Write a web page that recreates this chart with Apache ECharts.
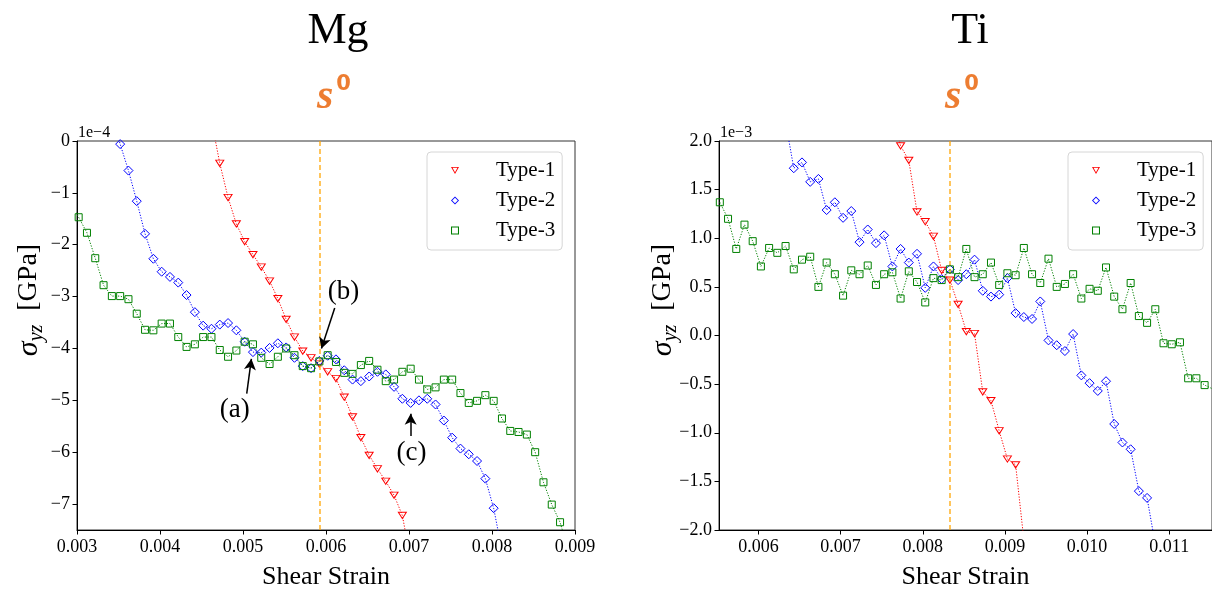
<!DOCTYPE html>
<html>
<head>
<meta charset="utf-8">
<script src="https://cdn.jsdelivr.net/npm/echarts@6/dist/echarts.min.js"></script>
<style>
html,body{margin:0;padding:0;background:#fff;}
#chart{width:1212px;height:596px;}
</style>
</head>
<body>
<div id="chart"></div>
<script>
// ---------- data (stress in units of the axis offset: Mg 1e-4 GPa, Ti 1e-3 GPa) ----------
const seriesNames = ['Type-1', 'Type-2', 'Type-3'];
const panelTitles = ['Mg', 'Ti'];

const mgXTicks = [0.003, 0.004, 0.005, 0.006, 0.007, 0.008, 0.009];
const mgYTicks = [-7, -6, -5, -4, -3, -2, -1, 0];
const tiXTicks = [0.006, 0.007, 0.008, 0.009, 0.010, 0.011];
const tiYTicks = [-2.0, -1.5, -1.0, -0.5, 0.0, 0.5, 1.0, 1.5, 2.0];

const mgS0 = 0.00592;
const tiS0 = 0.00833;

const mgType1Strain = [0.00462,0.00472,0.00482,0.00492,0.00502,0.00512,0.00522,0.00532,0.00542,0.00552,0.00562,0.00572,0.00582,0.00592,0.00602,0.00612,0.00622,0.00632,0.00642,0.00652,0.00662,0.00672,0.00682,0.00692,0.00702];
const mgType1Stress = [0.40,-0.43,-1.09,-1.60,-1.94,-2.19,-2.43,-2.70,-3.04,-3.44,-3.78,-4.05,-4.18,-4.30,-4.45,-4.58,-4.94,-5.32,-5.72,-6.06,-6.32,-6.56,-6.83,-7.22,-8.08];

const mgType2Strain = [0.00342,0.00352,0.00362,0.00372,0.00382,0.00392,0.00402,0.00412,0.00422,0.00432,0.00442,0.00452,0.00462,0.00472,0.00482,0.00492,0.00502,0.00512,0.00522,0.00532,0.00542,0.00552,0.00562,0.00572,0.00582,0.00592,0.00602,0.00612,0.00622,0.00632,0.00642,0.00652,0.00662,0.00672,0.00682,0.00692,0.00702,0.00712,0.00722,0.00732,0.00742,0.00752,0.00762,0.00772,0.00782,0.00792,0.00802,0.00812];
const mgType2Stress = [0.5,-0.06,-0.57,-1.16,-1.79,-2.27,-2.52,-2.62,-2.73,-2.97,-3.30,-3.56,-3.62,-3.54,-3.51,-3.65,-3.87,-4.07,-4.08,-3.99,-3.90,-3.98,-4.18,-4.34,-4.38,-4.24,-4.14,-4.21,-4.42,-4.60,-4.63,-4.54,-4.45,-4.50,-4.74,-4.97,-5.05,-5.00,-4.97,-5.08,-5.39,-5.72,-5.93,-6.04,-6.17,-6.51,-7.08,-7.9];

const mgType3Strain = [0.00292,0.00302,0.00312,0.00322,0.00332,0.00342,0.00352,0.00362,0.00372,0.00382,0.00392,0.00402,0.00412,0.00422,0.00432,0.00442,0.00452,0.00462,0.00472,0.00482,0.00492,0.00502,0.00512,0.00522,0.00532,0.00542,0.00552,0.00562,0.00572,0.00582,0.00592,0.00602,0.00612,0.00622,0.00632,0.00642,0.00652,0.00662,0.00672,0.00682,0.00692,0.00702,0.00712,0.00722,0.00732,0.00742,0.00752,0.00762,0.00772,0.00782,0.00792,0.00802,0.00812,0.00822,0.00832,0.00842,0.00852,0.00862,0.00872,0.00882,0.00892];
const mgType3Stress = [-1.19,-1.47,-1.77,-2.26,-2.78,-2.99,-2.99,-3.05,-3.33,-3.64,-3.65,-3.52,-3.52,-3.78,-3.97,-3.92,-3.78,-3.78,-4.03,-4.16,-4.04,-3.87,-3.92,-4.18,-4.30,-4.16,-4.00,-4.13,-4.34,-4.38,-4.25,-4.13,-4.26,-4.47,-4.49,-4.32,-4.24,-4.41,-4.63,-4.60,-4.45,-4.39,-4.60,-4.79,-4.75,-4.60,-4.60,-4.86,-5.05,-5.01,-4.90,-5.01,-5.35,-5.59,-5.61,-5.66,-6.00,-6.58,-7.01,-7.35,-7.9];

const tiType1Strain = [0.00763,0.00773,0.00783,0.00793,0.00803,0.00813,0.00823,0.00833,0.00843,0.00853,0.00863,0.00873,0.00883,0.00893,0.00903,0.00913,0.00923];
const tiType1Stress = [2.3,1.95,1.80,1.27,1.17,1.02,0.67,0.57,0.32,0.04,0.02,-0.58,-0.67,-0.98,-1.27,-1.33,-2.1];

const tiType2Strain = [0.00633,0.00643,0.00653,0.00663,0.00673,0.00683,0.00693,0.00703,0.00713,0.00723,0.00733,0.00743,0.00753,0.00763,0.00773,0.00783,0.00793,0.00803,0.00813,0.00823,0.00833,0.00843,0.00853,0.00863,0.00873,0.00883,0.00893,0.00903,0.00913,0.00923,0.00933,0.00943,0.00953,0.00963,0.00973,0.00983,0.00993,0.01003,0.01013,0.01023,0.01033,0.01043,0.01053,0.01063,0.01073,0.01083];
const tiType2Stress = [2.2,1.72,1.78,1.58,1.61,1.29,1.37,1.21,1.28,0.96,1.09,0.95,1.03,0.71,0.89,0.75,0.84,0.49,0.71,0.58,0.68,0.57,0.63,0.78,0.46,0.40,0.42,0.59,0.23,0.19,0.17,0.35,-0.05,-0.10,-0.16,0.015,-0.41,-0.49,-0.57,-0.47,-0.91,-1.10,-1.17,-1.60,-1.67,-2.15];

const tiType3Strain = [0.00553,0.00563,0.00573,0.00583,0.00593,0.00603,0.00613,0.00623,0.00633,0.00643,0.00653,0.00663,0.00673,0.00683,0.00693,0.00703,0.00713,0.00723,0.00733,0.00743,0.00753,0.00763,0.00773,0.00783,0.00793,0.00803,0.00813,0.00823,0.00833,0.00843,0.00853,0.00863,0.00873,0.00883,0.00893,0.00903,0.00913,0.00923,0.00933,0.00943,0.00953,0.00963,0.00973,0.00983,0.00993,0.01003,0.01013,0.01023,0.01033,0.01043,0.01053,0.01063,0.01073,0.01083,0.01093,0.01103,0.01113,0.01123,0.01133,0.01143,0.01153];
const tiType3Stress = [1.37,1.20,0.89,1.14,0.97,0.71,0.90,0.85,0.92,0.68,0.78,0.81,0.50,0.75,0.63,0.41,0.67,0.63,0.72,0.52,0.63,0.65,0.38,0.66,0.55,0.34,0.59,0.57,0.68,0.60,0.89,0.60,0.63,0.75,0.52,0.64,0.62,0.90,0.63,0.54,0.79,0.50,0.53,0.63,0.38,0.48,0.46,0.70,0.40,0.27,0.54,0.20,0.13,0.27,-0.08,-0.09,-0.07,-0.44,-0.44,-0.51,-0.55];

// annotations on Mg panel: [label, textX, textY, arrowFromX, arrowFromY, arrowToX, arrowToY]
const mgAnnotations = [
  ['(a)', 0.00490, -5.19, 0.005045, -4.87, 0.005101, -4.20],
  ['(b)', 0.00621, -2.90, 0.006105, -3.22, 0.005945, -4.00],
  ['(c)', 0.00703, -6.02, 0.00702, -5.69, 0.00702, -5.26]
];

// ---------- styling ----------
const SERIF = "'Liberation Serif','Times New Roman',serif";
const colors = ['#ff0000', '#0000ff', '#008000'];
const triDown = 'path://M0,0L10,0L5,9Z';
const diamondPath = 'path://M5,0L10,5L5,10L0,5Z';
const squarePath = 'path://M0,0L10,0L10,10L0,10Z';
const symbols = [triDown, diamondPath, squarePath];
// hollow outline shapes (outer ring minus inner hole) for legend keys
const legendIcons = [
  'path://M0,0L10,0L5,9ZM1.9,1.1L5,6.7L8.1,1.1Z',
  'path://M5,0L10,5L5,10L0,5ZM5,1.5L1.5,5L5,8.5L8.5,5Z',
  'path://M0,0L10,0L10,10L0,10ZM1.3,1.3L1.3,8.7L8.7,8.7L8.7,1.3Z'
];
const symSizes = [[8, 7], 9, 7];
const ORANGE_LINE = 'rgba(255,165,0,0.85)';
const TITLE_ORANGE = '#ED7D31';

function zip(xs, ys) { return xs.map((x, i) => [x, ys[i]]); }
const minus = s => s.replace('-', '\u2212');

function mkSeries(name, k, xs, ys, axisIdx) {
  return {
    type: 'line', name: name,
    xAxisIndex: axisIdx, yAxisIndex: axisIdx,
    data: zip(xs, ys),
    symbol: symbols[k], symbolSize: symSizes[k], symbolKeepAspect: true,
    showAllSymbol: true,
    clip: true,
    itemStyle: { color: 'rgba(255,255,255,0)', borderColor: colors[k], borderWidth: 1 },
    lineStyle: { color: colors[k], width: 1, type: [1.2, 1.6] },
    emphasis: { disabled: true },
    animation: false,
    z: 3 + k
  };
}

function axisCommon() {
  return {
    axisLine: { show: true, onZero: false, lineStyle: { color: '#000', width: 1 } },
    axisTick: { show: true, inside: false, length: 4.5, lineStyle: { color: '#000', width: 1 } },
    splitLine: { show: false },
    axisLabel: { color: '#000', fontFamily: SERIF, fontSize: 18 }
  };
}

const grids = [
  { left: 77, top: 141, width: 498, height: 389, show: true, borderColor: '#333', borderWidth: 1, backgroundColor: 'transparent' },
  { left: 719, top: 141, width: 498, height: 389, show: true, borderColor: '#333', borderWidth: 1, backgroundColor: 'transparent' }
];

const xAxes = [
  Object.assign(axisCommon(), {
    type: 'value', gridIndex: 0, min: 0.003, max: 0.009, interval: 0.001,
    name: 'Shear Strain', nameLocation: 'middle', nameGap: 34,
    nameTextStyle: { fontFamily: SERIF, fontSize: 26, color: '#000' }
  }),
  Object.assign(axisCommon(), {
    type: 'value', gridIndex: 1, min: 0.00552, max: 0.01152,
    name: 'Shear Strain', nameLocation: 'middle', nameGap: 34,
    nameTextStyle: { fontFamily: SERIF, fontSize: 26, color: '#000' }
  })
];
xAxes[0].axisLabel.formatter = v => v.toFixed(3);
xAxes[0].axisLabel.margin = 8;
xAxes[1].axisLabel.formatter = v => v.toFixed(3);
xAxes[1].axisLabel.margin = 8;
xAxes[1].axisLabel.customValues = tiXTicks;
xAxes[1].axisTick.customValues = tiXTicks;

const yAxes = [
  Object.assign(axisCommon(), { type: 'value', gridIndex: 0, min: -7.5, max: 0 }),
  Object.assign(axisCommon(), { type: 'value', gridIndex: 1, min: -2, max: 2, interval: 0.5 })
];
yAxes[0].axisLabel.customValues = mgYTicks;
yAxes[0].axisTick.customValues = mgYTicks;
yAxes[0].axisLabel.formatter = v => minus(String(Math.round(v)));
yAxes[0].axisLabel.margin = 7;
yAxes[1].axisLabel.formatter = v => minus(v.toFixed(1));
yAxes[1].axisLabel.margin = 7;

const series = [
  mkSeries(seriesNames[0], 0, mgType1Strain, mgType1Stress, 0),
  mkSeries(seriesNames[1], 1, mgType2Strain, mgType2Stress, 0),
  mkSeries(seriesNames[2], 2, mgType3Strain, mgType3Stress, 0),
  mkSeries(seriesNames[0], 0, tiType1Strain, tiType1Stress, 1),
  mkSeries(seriesNames[1], 1, tiType2Strain, tiType2Stress, 1),
  mkSeries(seriesNames[2], 2, tiType3Strain, tiType3Stress, 1)
];

// s0 vertical dashed lines
const vline = (x, y0, y1) => ({
  silent: true, symbol: ['none', 'none'], animation: false,
  label: { show: false },
  lineStyle: { color: ORANGE_LINE, type: [5, 3], width: 1.5 },
  data: [[{ coord: [x, y0] }, { coord: [x, y1] }]]
});
series[0].markLine = vline(mgS0, -7.5, 0);
series[3].markLine = vline(tiS0, -2, 2);

// annotation arrows + texts (Mg)
series.push({
  type: 'scatter', xAxisIndex: 0, yAxisIndex: 0, data: [], silent: true, z: 10,
  markLine: {
    silent: true, animation: false, symbol: ['none', 'arrow'], symbolSize: [9, 11],
    label: { show: false },
    lineStyle: { color: '#000', type: 'solid', width: 1.5 },
    data: mgAnnotations.map(a => [{ coord: [a[3], a[4]] }, { coord: [a[5], a[6]] }])
  },
  markPoint: {
    silent: true, animation: false, symbol: 'circle', symbolSize: 0,
    label: { show: true, position: 'inside', formatter: p => p.name, color: '#000', fontFamily: SERIF, fontSize: 27 },
    data: mgAnnotations.map(a => ({ name: a[0], coord: [a[1], a[2]] }))
  }
});

function mkLegend(left) {
  return {
    left: left, top: 152, orient: 'vertical',
    itemWidth: 8, itemHeight: 8, itemGap: 9,
    padding: [8, 7, 9, 24],
    borderColor: '#d6d6d6', borderWidth: 1, borderRadius: 4,
    backgroundColor: 'rgba(255,255,255,0.8)',
    selectedMode: false,
    textStyle: { fontFamily: SERIF, fontSize: 21, color: '#000', padding: [0, 0, 0, 32] },
    data: seriesNames.map((n, k) => ({
      name: n, icon: legendIcons[k],
      itemStyle: { color: colors[k], borderWidth: 0 }
    }))
  };
}

function mkTitle(text, centerX, top) {
  return {
    text: text, left: centerX, top: top, textAlign: 'center', padding: 0,
    textStyle: { fontFamily: SERIF, fontSize: 44, fontWeight: 'normal', color: '#000' }
  };
}
function mkS0(centerX, top) {
  return {
    text: '{s|s}{sup|0}', left: centerX, top: top, textAlign: 'center', padding: 0,
    textStyle: {
      rich: {
        s: { fontFamily: SERIF, fontStyle: 'italic', fontSize: 42, color: TITLE_ORANGE, lineHeight: 44, verticalAlign: 'bottom' },
        sup: { fontFamily: "'DejaVu Sans',sans-serif", fontSize: 21, color: TITLE_ORANGE, lineHeight: 44, verticalAlign: 'top', padding: [0, 0, 0, 3] }
      }
    }
  };
}
function mkOffset(text, left) {
  return {
    text: text, left: left, top: 125, padding: 0,
    textStyle: { fontFamily: SERIF, fontSize: 16, fontWeight: 'normal', color: '#000' }
  };
}

function yLabel(x, y) {
  return {
    type: 'text', x: x, y: y, rotation: Math.PI / 2,
    style: {
      text: '{s|σ}{sub|yz}{g|  [GPa]}',
      align: 'center', verticalAlign: 'middle',
      rich: {
        s: { fontFamily: SERIF, fontStyle: 'italic', fontSize: 30, lineHeight: 36, verticalAlign: 'middle', fill: '#000' },
        g: { fontFamily: SERIF, fontSize: 28, lineHeight: 36, verticalAlign: 'middle', fill: '#000' },
        sub: { fontFamily: SERIF, fontStyle: 'italic', fontSize: 20, lineHeight: 36, verticalAlign: 'bottom', fill: '#000' }
      }
    }
  };
}

const option = {
  backgroundColor: '#fff',
  animation: false,
  title: [
    mkTitle(panelTitles[0], 338, 9), mkTitle(panelTitles[1], 970, 9),
    mkS0(334, 74), mkS0(962, 74),
    mkOffset('1e\u22124', 78), mkOffset('1e\u22123', 720)
  ],
  legend: [mkLegend(427), mkLegend(1068)],
  grid: grids,
  xAxis: xAxes,
  yAxis: yAxes,
  series: series,
  graphic: [ yLabel(29, 300), yLabel(663, 300) ]
};

const chart = echarts.init(document.getElementById('chart'), null, { renderer: 'canvas' });
chart.setOption(option);
</script>
</body>
</html>
